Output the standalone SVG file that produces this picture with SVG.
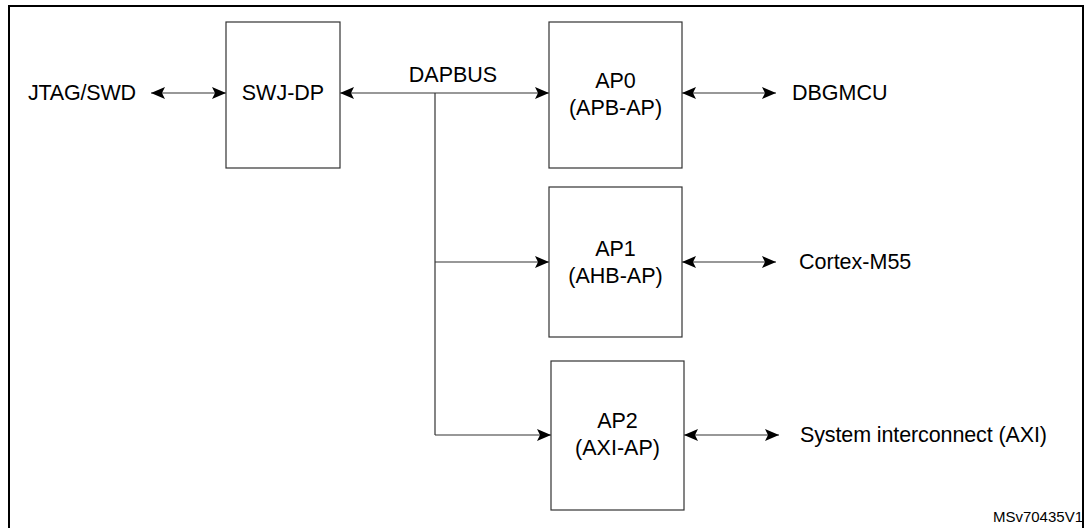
<svg xmlns="http://www.w3.org/2000/svg" width="1091" height="528" viewBox="0 0 1091 528">
<style>
text{font-family:"Liberation Sans",Arial,sans-serif;font-size:21.5px;fill:#000}
.b{fill:#fff;stroke:#333;stroke-width:1.2}
.c{stroke:#333;stroke-width:1.2;fill:none}
</style>
<defs><marker id="a" viewBox="0 0 14 12" refX="14" refY="6" markerWidth="14" markerHeight="12" markerUnits="userSpaceOnUse" orient="auto-start-reverse"><path d="M0,0L14,6L0,12L3,6z" fill="#000"/></marker></defs>
<rect x="9" y="6" width="1074" height="530" fill="none" stroke="#000" stroke-width="2"/>
<g id="connectors">
<line class="c" x1="151" y1="93" x2="226" y2="93" marker-start="url(#a)" marker-end="url(#a)"/>
<line class="c" x1="340" y1="93" x2="549" y2="93" marker-start="url(#a)" marker-end="url(#a)"/>
<line class="c" x1="435" y1="93" x2="435" y2="435"/>
<line class="c" x1="435" y1="262" x2="549" y2="262" marker-end="url(#a)"/>
<line class="c" x1="435" y1="435" x2="551" y2="435" marker-end="url(#a)"/>
<line class="c" x1="682" y1="93" x2="776" y2="93" marker-start="url(#a)" marker-end="url(#a)"/>
<line class="c" x1="682" y1="262" x2="776" y2="262" marker-start="url(#a)" marker-end="url(#a)"/>
<line class="c" x1="684" y1="435" x2="779" y2="435" marker-start="url(#a)" marker-end="url(#a)"/>
<text x="453" y="82" text-anchor="middle">DAPBUS</text>
</g>
<g id="jtag"><text x="28" y="100" textLength="108">JTAG/SWD</text></g>
<g id="swjdp"><rect class="b" x="226" y="22" width="114" height="146"/><text x="283" y="100" text-anchor="middle">SWJ-DP</text></g>
<g id="ap0"><rect class="b" x="549" y="22" width="133" height="146"/><text x="615.5" y="88" text-anchor="middle">AP0</text><text x="615.5" y="115" text-anchor="middle">(APB-AP)</text></g>
<g id="ap1"><rect class="b" x="549" y="187" width="133" height="150"/><text x="615.5" y="256" text-anchor="middle">AP1</text><text x="615.5" y="283" text-anchor="middle">(AHB-AP)</text></g>
<g id="ap2"><rect class="b" x="551" y="361" width="133" height="149"/><text x="617.5" y="428" text-anchor="middle">AP2</text><text x="617.5" y="455" text-anchor="middle">(AXI-AP)</text></g>
<g id="dbgmcu"><text x="792" y="100">DBGMCU</text></g>
<g id="cm55"><text x="799" y="269">Cortex-M55</text></g>
<g id="axi"><text x="800" y="442" textLength="247">System interconnect (AXI)</text></g>
<text x="1083" y="522" text-anchor="end" style="font-size:15px">MSv70435V1</text>
</svg>
